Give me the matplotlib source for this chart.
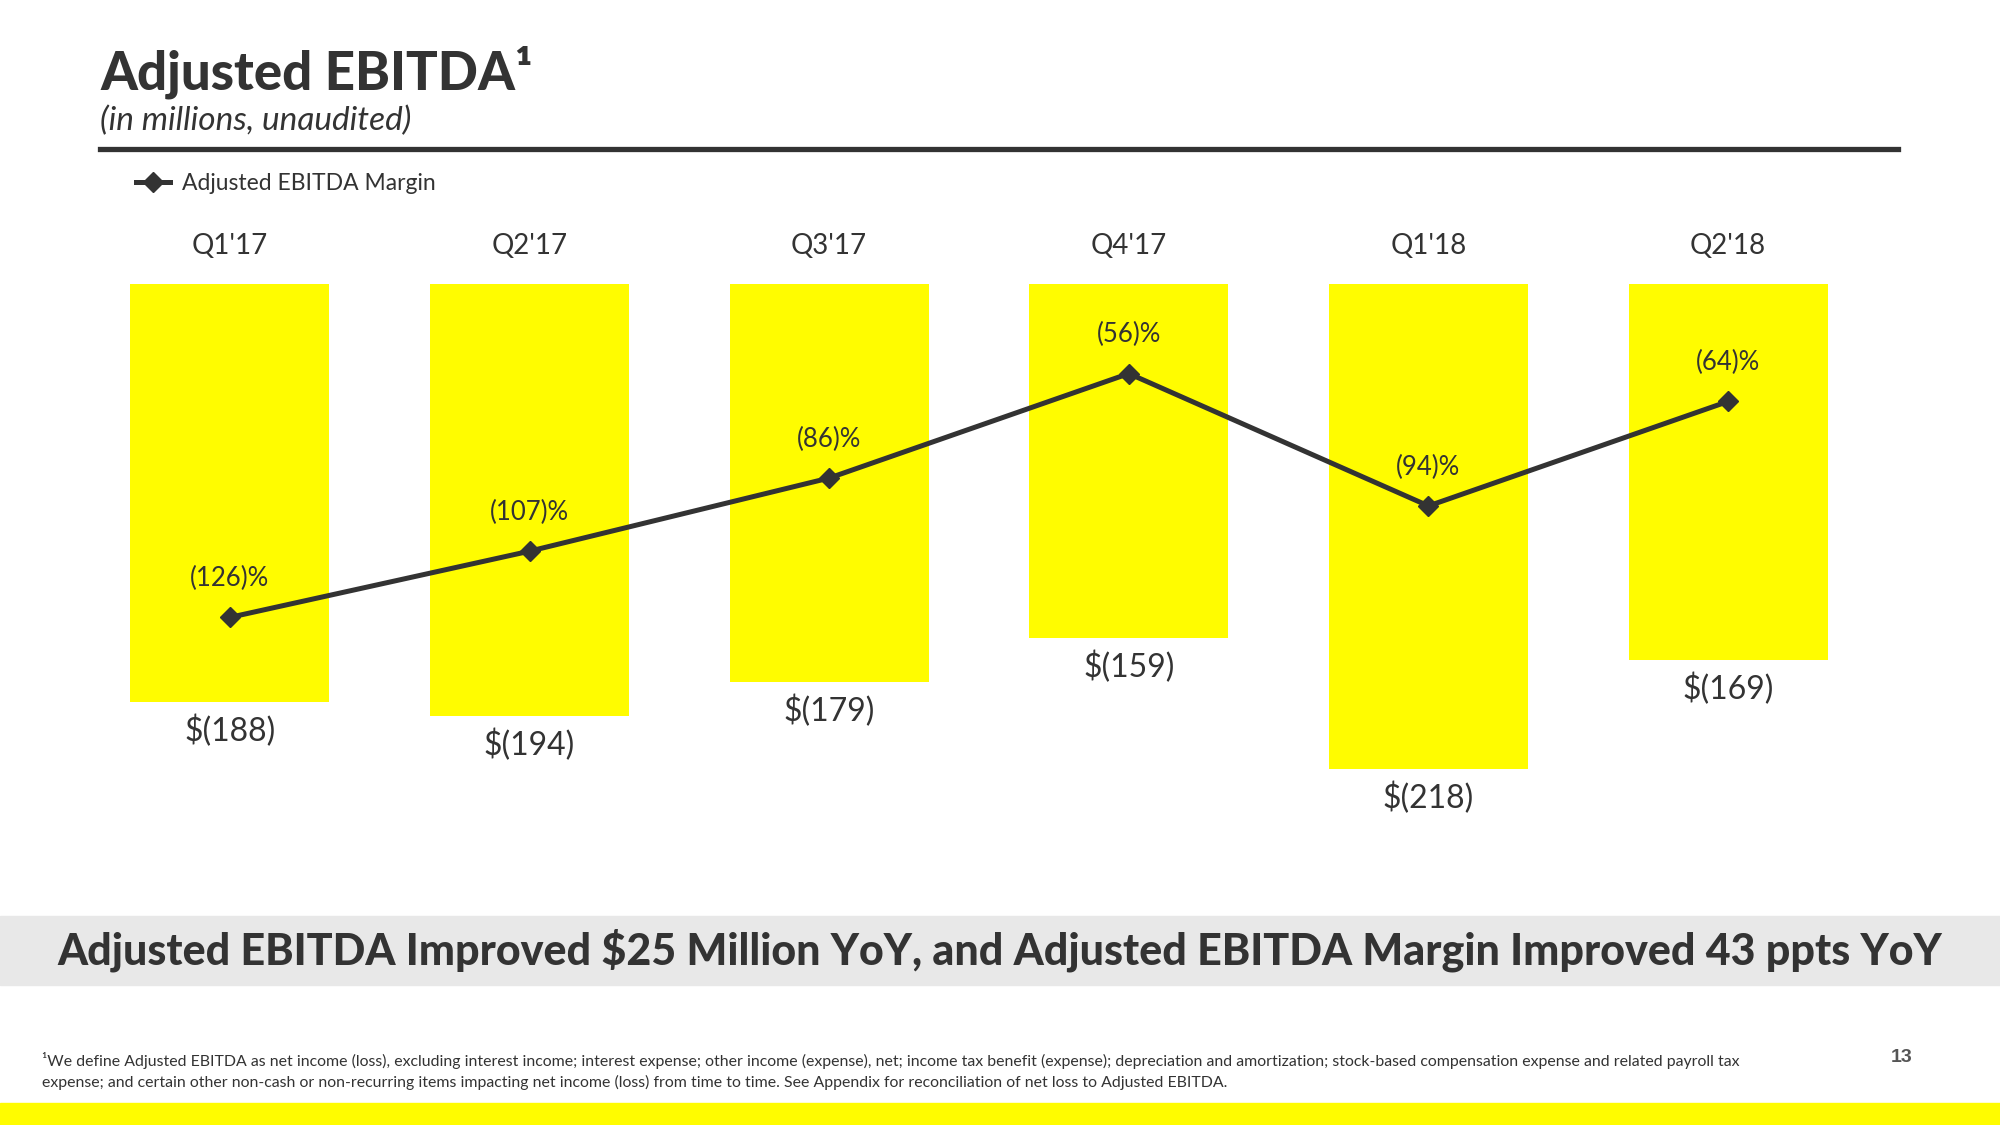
import matplotlib
matplotlib.use("Agg")
import matplotlib.pyplot as plt
from matplotlib.patches import Rectangle
from matplotlib.lines import Line2D

plt.rcParams["font.family"] = ["Lato", "DejaVu Sans"]

quarters = ["Q1'17", "Q2'17", "Q3'17", "Q4'17", "Q1'18", "Q2'18"]
ebitda = [-188, -194, -179, -159, -218, -169]          # $ millions
margin = [-126, -107, -86, -56, -94, -64]              # percent

YELLOW = "#FFFC00"
DARK = "#333333"
W, H = 2000, 1125

def fx(px):
    return px / W

def fy(py):
    return 1 - py / H

fig = plt.figure(figsize=(20, 11.25), dpi=100)

# main bar axes: x centres at 230..1728 px, value 0 at y=284 px
top_px, bot_px = 284.4, 880
ax = fig.add_axes([fx(80), fy(bot_px), fx(1878 - 80), (bot_px - top_px) / H])
x = list(range(len(quarters)))
ax.bar(x, ebitda, width=0.665, color=YELLOW, zorder=1)
ax.set_xlim(-0.5, 5.5)
ax.set_ylim(-268, 0)
ax.axis("off")

for i, v in enumerate(ebitda):
    ax.annotate(f"$({-v})", (i, v), xytext=(0, -21), textcoords="offset points",
                ha="center", va="center", fontsize=23, color=DARK)
    ax.annotate(quarters[i], (i, 0), xytext=(0, 28), textcoords="offset points",
                ha="center", va="center", fontsize=20, color=DARK)

# margin line on its own scale
ax2 = ax.twinx()
ax2.set_position(ax.get_position())
ax2.set_ylim(-201.4, -30.4)
ax2.axis("off")
line, = ax2.plot(x, margin, color=DARK, lw=3.6, marker="D", markersize=10,
                 zorder=3, label="Adjusted EBITDA Margin")
for i, m in enumerate(margin):
    ax2.annotate(f"({-m})%", (i, m), xytext=(0, 28), textcoords="offset points",
                 ha="center", va="center", fontsize=18.5, color=DARK)

fig.legend(handles=[line], loc="center left", bbox_to_anchor=(fx(125), fy(184)),
           frameon=False, prop={"size": 16.5}, handlelength=1.45,
           handletextpad=0.55, labelcolor=DARK, borderpad=0)

# header
fig.text(fx(100), fy(72), "Adjusted EBITDA¹", fontsize=38, fontweight="black",
         color=DARK, va="center", ha="left")
fig.text(fx(100), fy(121), "(in millions, unaudited)", fontsize=24,
         fontstyle="italic", color=DARK, va="center", ha="left")
fig.add_artist(Line2D([fx(100), fx(1898)], [fy(149), fy(149)], color=DARK,
                      lw=3.8, transform=fig.transFigure))

# takeaway band
fig.add_artist(Rectangle((0, fy(985)), 1, (985 - 916) / H, color="#E8E8E8",
                         transform=fig.transFigure, zorder=0))
fig.text(0.5, fy(950), "Adjusted EBITDA Improved $25 Million YoY, and Adjusted EBITDA Margin Improved 43 ppts YoY",
         fontsize=31, fontweight="black", color=DARK, ha="center", va="center")

# footnote
fig.text(fx(42), fy(1071),
         "¹We define Adjusted EBITDA as net income (loss), excluding interest income; interest expense; other income (expense), net; "
         "income tax benefit (expense); depreciation and amortization; stock-based compensation expense and related payroll tax\n"
         "expense; and certain other non-cash or non-recurring items impacting net income (loss) from time to time. "
         "See Appendix for reconciliation of net loss to Adjusted EBITDA.",
         fontsize=11.4, color=DARK, ha="left", va="center", linespacing=1.5)
fig.text(fx(1902), fy(1058), "13", fontsize=14, fontweight="bold", color="#555555",
         family="Liberation Sans", ha="center", va="center")

fig.add_artist(Rectangle((0, 0), 1, (H - 1103) / H, color=YELLOW,
                         transform=fig.transFigure, zorder=0))

fig.savefig("out.png", dpi=100)
